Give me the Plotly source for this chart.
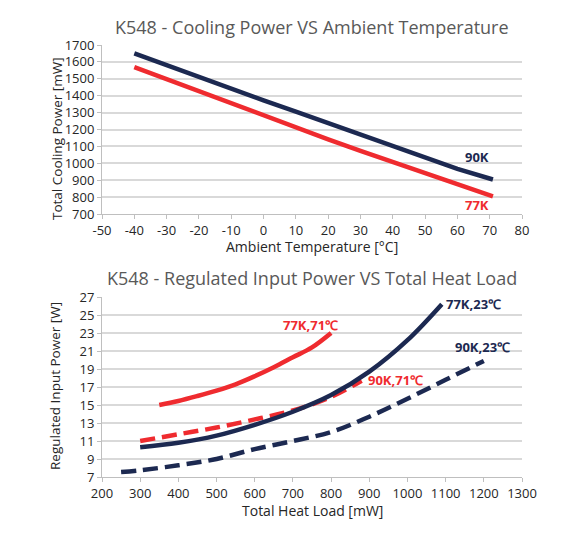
import plotly.graph_objects as go

# ---- Top chart data: Cooling power vs ambient temperature ----
amb_temp = [-40, -30, -20, -10, 0, 10, 20, 30, 40, 50, 60, 71]
cp_90k = [1651, 1580, 1510, 1440, 1372, 1306, 1237, 1168, 1100, 1033, 967, 904]
cp_77k = [1569, 1497, 1427, 1356, 1285, 1214, 1142, 1073, 1006, 940, 873, 804]

# ---- Bottom chart data: Regulated input power vs total heat load ----
hl_77k71 = [350, 400, 450, 500, 550, 600, 650, 700, 750, 800]
ip_77k71 = [15.0, 15.45, 16.0, 16.6, 17.3, 18.2, 19.2, 20.3, 21.4, 23.0]

hl_90k71 = [300, 400, 500, 600, 700, 800, 880]
ip_90k71 = [11.0, 11.75, 12.5, 13.4, 14.4, 15.9, 17.7]

hl_77k23 = [300, 400, 500, 600, 700, 800, 900, 1000, 1090]
ip_77k23 = [10.3, 10.8, 11.6, 12.8, 14.25, 16.1, 18.7, 22.2, 26.2]

hl_90k23 = [250, 300, 400, 500, 600, 700, 800, 900, 1000, 1100, 1200]
ip_90k23 = [7.55, 7.75, 8.3, 9.0, 10.1, 11.0, 12.0, 13.7, 15.7, 17.8, 19.9]

top_xticks = list(range(-50, 81, 10))
top_yticks = list(range(700, 1701, 100))
bot_xticks = list(range(200, 1301, 100))
bot_yticks = list(range(7, 28, 2))

NAVY = "#1c2951"
RED = "#ef2b2f"
FONT = "Open Sans"
LW = 4.5
DASH = "15px,7px"

fig = go.Figure()
fig.add_trace(go.Scatter(x=amb_temp, y=cp_90k, mode="lines", line=dict(color=NAVY, width=LW),
                         xaxis="x", yaxis="y", showlegend=False))
fig.add_trace(go.Scatter(x=amb_temp, y=cp_77k, mode="lines", line=dict(color=RED, width=LW),
                         xaxis="x", yaxis="y", showlegend=False))

fig.add_trace(go.Scatter(x=hl_77k71, y=ip_77k71, mode="lines", line=dict(color=RED, width=LW, shape="spline"),
                         xaxis="x2", yaxis="y2", showlegend=False))
fig.add_trace(go.Scatter(x=hl_90k71, y=ip_90k71, mode="lines",
                         line=dict(color=RED, width=LW, dash=DASH, shape="spline"),
                         xaxis="x2", yaxis="y2", showlegend=False))
fig.add_trace(go.Scatter(x=hl_77k23, y=ip_77k23, mode="lines", line=dict(color=NAVY, width=LW, shape="spline"),
                         xaxis="x2", yaxis="y2", showlegend=False))
fig.add_trace(go.Scatter(x=hl_90k23, y=ip_90k23, mode="lines",
                         line=dict(color=NAVY, width=LW, dash=DASH, shape="spline"),
                         xaxis="x2", yaxis="y2", showlegend=False))

L, R, T, B = 102, 65, 45, 56
W, H = 587, 533
PH = H - T - B
PW = W - L - R


def py(p):
    return (H - B - p) / PH


def px(p):
    return (p - L) / PW


axis_common = dict(showgrid=True, gridcolor="#d9d9d9", gridwidth=1.5, showline=True, linecolor="#bfbfbf",
                   linewidth=1, ticks="outside", ticklen=4, tickcolor="#bfbfbf", zeroline=False,
                   tickfont=dict(family=FONT, size=13, color="#262626"))

fig.update_layout(
    width=W, height=H,
    margin=dict(l=L, r=R, t=T, b=B),
    paper_bgcolor="white", plot_bgcolor="white",
    xaxis=dict(domain=[0, 1], anchor="y", range=[-50, 80], tickvals=top_xticks,
               ticktext=[str(v) for v in top_xticks], **axis_common),
    yaxis=dict(domain=[py(214), 1], anchor="x", range=[700, 1700], tickvals=top_yticks,
               ticktext=[str(v) for v in top_yticks], **axis_common),
    xaxis2=dict(domain=[0, 1], anchor="y2", range=[200, 1300], tickvals=bot_xticks,
                ticktext=[str(v) for v in bot_xticks], **axis_common),
    yaxis2=dict(domain=[0, py(297)], anchor="x2", range=[7, 27], tickvals=bot_yticks,
                ticktext=[str(v) for v in bot_yticks], **axis_common),
)
fig.update_xaxes(showgrid=False)

base = dict(xref="paper", yref="paper", showarrow=False, xanchor="center", yanchor="middle")
ann = []
# titles
ann.append(dict(text="K548 - Cooling Power VS Ambient Temperature", x=px(312), y=py(27),
                font=dict(family=FONT, size=18, color="#595959"), **base))
ann.append(dict(text="K548 - Regulated Input Power VS Total Heat Load", x=px(312), y=py(278),
                font=dict(family=FONT, size=18, color="#595959"), **base))
# axis titles
ann.append(dict(text="Ambient Temperature [°C]", x=px(312), y=py(246),
                font=dict(family=FONT, size=14, color="#262626"), **base))
ann.append(dict(text="Total Heat Load [mW]", x=px(312), y=py(510),
                font=dict(family=FONT, size=14, color="#262626"), **base))
ann.append(dict(text="Total Cooling Power [mW]", x=px(57), y=py(139), textangle=-90,
                font=dict(family=FONT, size=13.5, color="#262626"), **base))
ann.append(dict(text="Regulated Input Power [W]", x=px(55), y=py(386), textangle=-90,
                font=dict(family=FONT, size=13.5, color="#262626"), **base))
# line labels
lab = dict(showarrow=False, xanchor="center", yanchor="middle")
ann.append(dict(text="<b>90K</b>", x=66, y=1037, xref="x", yref="y",
                font=dict(family=FONT, size=13, color=NAVY), **lab))
ann.append(dict(text="<b>77K</b>", x=66, y=753, xref="x", yref="y",
                font=dict(family=FONT, size=13, color=RED), **lab))
ann.append(dict(text="<b>77K,71℃</b>", x=746, y=23.9, xref="x2", yref="y2",
                font=dict(family=FONT, size=13, color=RED), **lab))
ann.append(dict(text="<b>90K,71℃</b>", x=969, y=17.8, xref="x2", yref="y2",
                font=dict(family=FONT, size=13, color=RED), **lab))
ann.append(dict(text="<b>77K,23℃</b>", x=1174, y=26.2, xref="x2", yref="y2",
                font=dict(family=FONT, size=13, color=NAVY), **lab))
ann.append(dict(text="<b>90K,23℃</b>", x=1196, y=21.4, xref="x2", yref="y2",
                font=dict(family=FONT, size=13, color=NAVY), **lab))
fig.update_layout(annotations=ann)

fig.write_html("out.html")
